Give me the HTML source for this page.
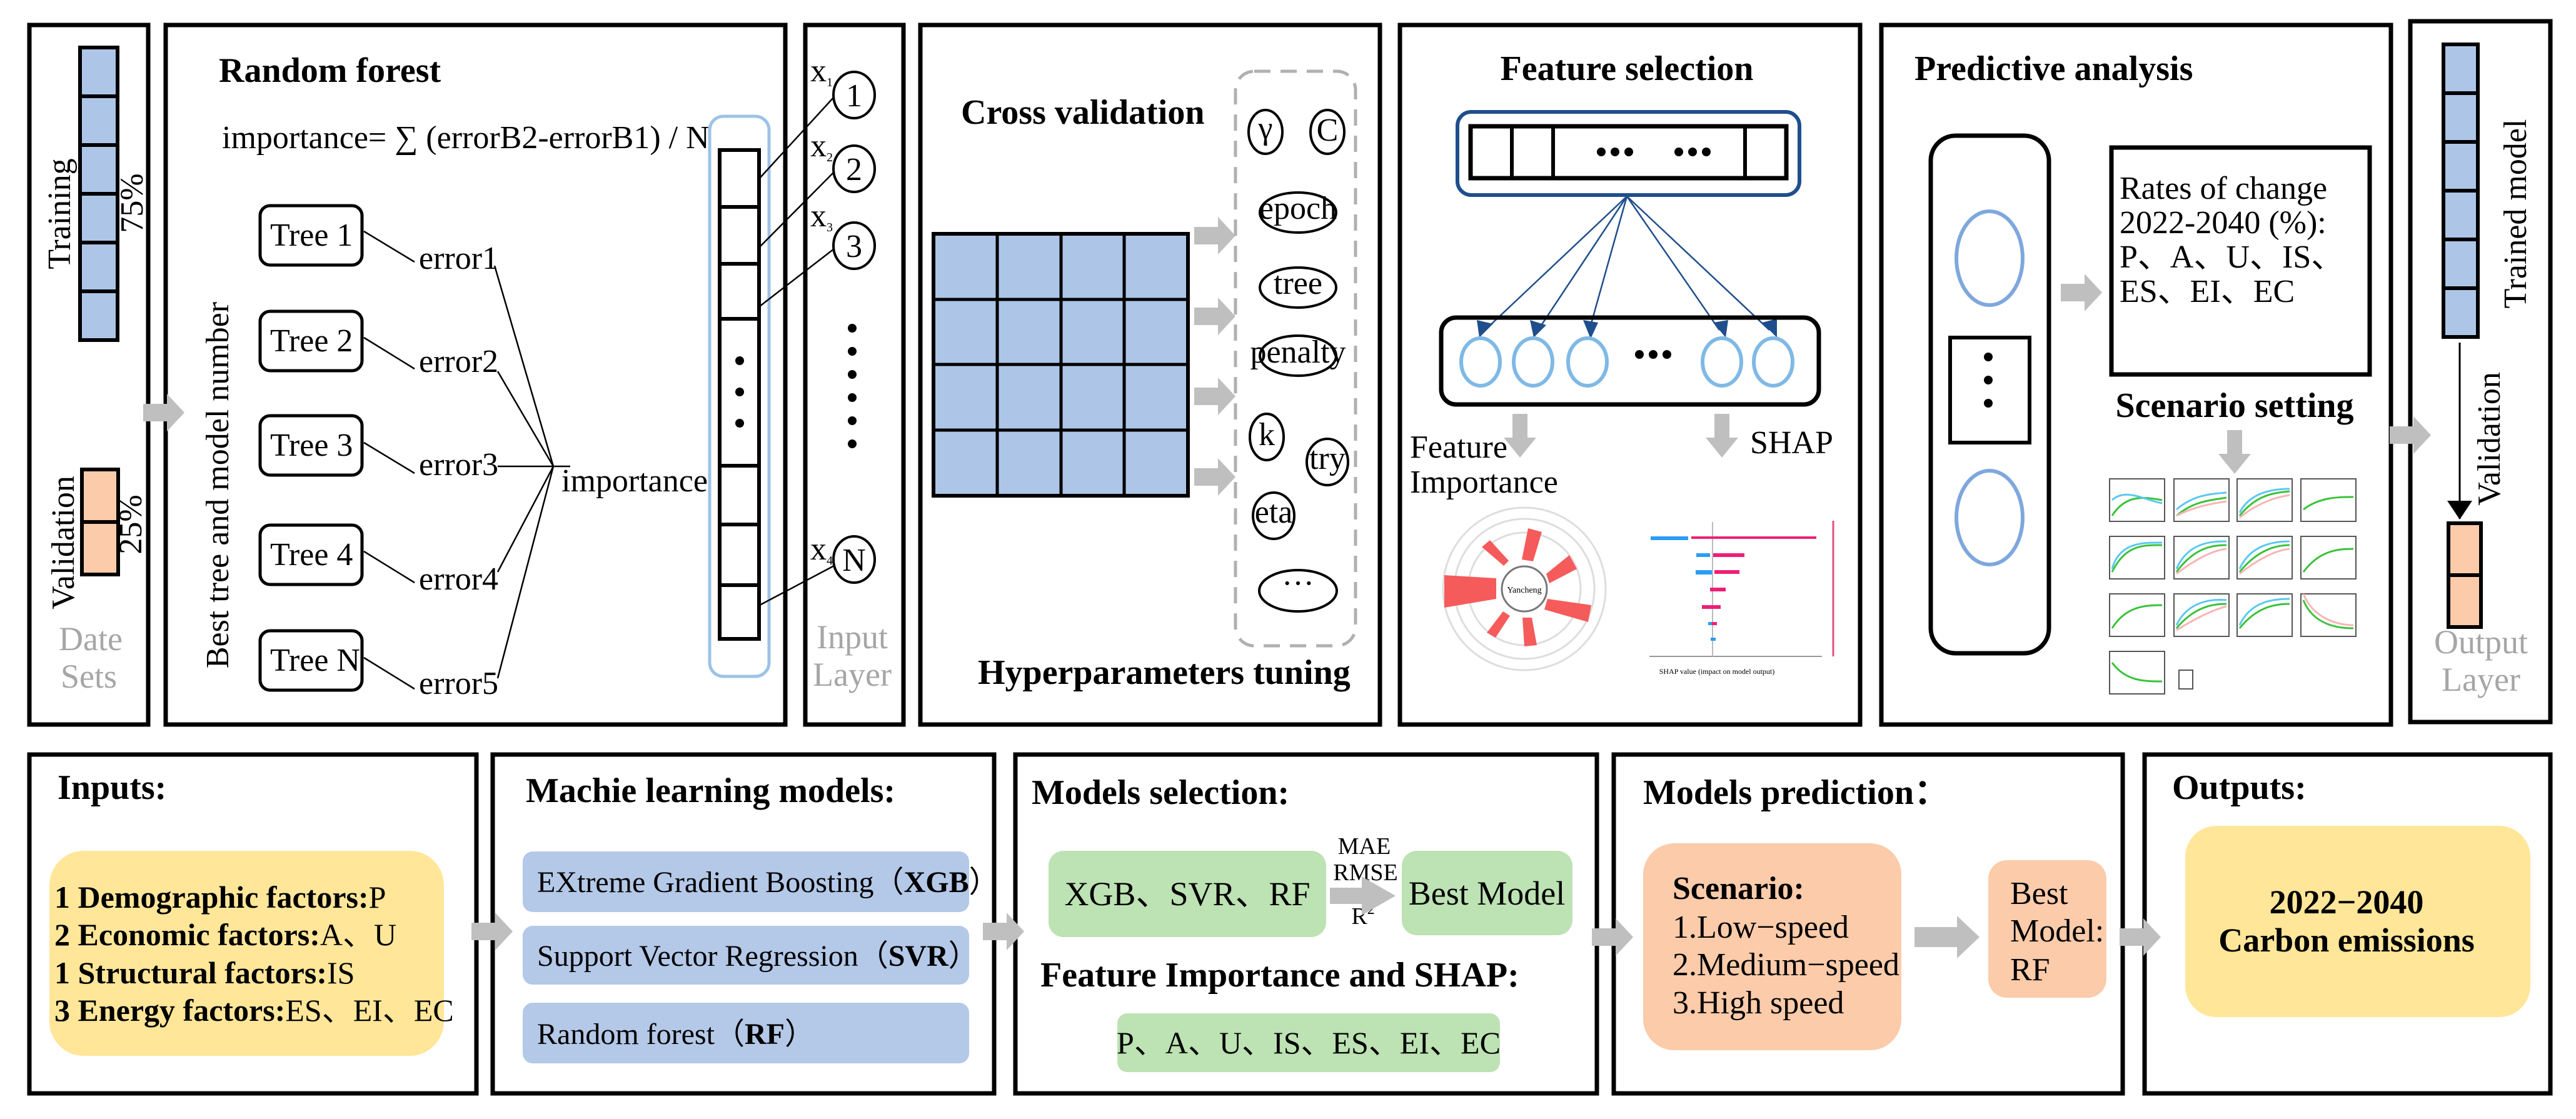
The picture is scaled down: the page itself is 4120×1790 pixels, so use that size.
<!DOCTYPE html>
<html><head><meta charset="utf-8"><style>
html,body{margin:0;padding:0;background:#fff;font-family:"Liberation Serif","Times New Roman",serif;}
svg{display:block;font-family:"Liberation Serif","Times New Roman",serif;}
svg text, svg tspan{font-family:"Liberation Serif","Times New Roman",serif;fill:#000;}
.t{font-weight:bold;font-size:56px;}
.n{font-size:52px;}
.g{fill:#a6a6a6 !important;font-size:54px;}
.box{fill:none;stroke:#000;stroke-width:7;}
</style></head><body>
<svg width="4120" height="1790" viewBox="0 0 4120 1790" xmlns="http://www.w3.org/2000/svg" font-family="Liberation Serif, Times New Roman, serif">
<defs>
<marker id="ab" markerWidth="8" markerHeight="8" refX="7" refY="4" orient="auto" markerUnits="userSpaceOnUse" viewBox="0 0 8 8"><path d="M0,0 L8,4 L0,8z" fill="#1f4e8c"/></marker>
<marker id="ak" markerWidth="30" markerHeight="40" refX="29" refY="20" orient="auto" markerUnits="userSpaceOnUse"><path d="M0,0 L30,20 L0,40z" fill="#000"/></marker>
<g id="gar"><path d="M0,-14 H38 V-30 L66,0 L38,30 V14 H0z" fill="#bfbfbf"/></g>
<g id="gdn"><path d="M-12,0 V38 H-26 L0,70 L26,38 H12 V0z" fill="#bfbfbf"/></g>
</defs>

<rect class="box" x="47" y="40" width="190" height="1119"/>
<rect class="box" x="265" y="40" width="991" height="1119"/>
<rect class="box" x="1288" y="40" width="157" height="1119"/>
<rect class="box" x="1472" y="40" width="735" height="1119"/>
<rect class="box" x="2239" y="40" width="736" height="1119"/>
<rect class="box" x="3009" y="40" width="815" height="1119"/>
<rect class="box" x="3855" y="34" width="224" height="1121"/>

<g fill="#adc6e8" stroke="#000" stroke-width="6">
<rect x="128" y="76" width="60" height="78"/><rect x="128" y="154" width="60" height="78"/><rect x="128" y="232" width="60" height="78"/><rect x="128" y="310" width="60" height="78"/><rect x="128" y="388" width="60" height="78"/><rect x="128" y="466" width="60" height="78"/>
</g>
<g fill="#fbcbaa" stroke="#000" stroke-width="6">
<rect x="131" y="751" width="58" height="84"/><rect x="131" y="835" width="58" height="84"/>
</g>
<text class="n" transform="translate(112,342) rotate(-90)" text-anchor="middle" font-size="56">Training</text>
<text class="n" transform="translate(228,325) rotate(-90)" text-anchor="middle" font-size="42">75%</text>
<text class="n" transform="translate(118,868) rotate(-90)" text-anchor="middle" font-size="56">Validation</text>
<text class="n" transform="translate(226,839) rotate(-90)" text-anchor="middle" font-size="42">25%</text>
<text class="g" x="145" y="1040" text-anchor="middle" fill="#a6a6a6">Date</text>
<text class="g" x="142" y="1100" text-anchor="middle" fill="#a6a6a6">Sets</text>
<use href="#gar" x="229" y="660"/>

<text class="t" x="350" y="131">Random forest</text>
<text class="n" x="355" y="237" font-size="54">importance= ∑ (errorB2-errorB1) / N</text>
<text class="n" transform="translate(365,776) rotate(-90)" text-anchor="middle" font-size="56">Best tree and model number</text>
<g fill="#fff" stroke="#000" stroke-width="5">
<rect x="416" y="329" width="163" height="95" rx="16"/>
<rect x="416" y="498" width="163" height="95" rx="16"/>
<rect x="416" y="665" width="163" height="95" rx="16"/>
<rect x="416" y="840" width="163" height="95" rx="16"/>
<rect x="416" y="1009" width="163" height="95" rx="16"/>
</g>
<g class="n" font-size="52">
<text x="432" y="393">Tree 1</text><text x="432" y="562">Tree 2</text><text x="432" y="729">Tree 3</text><text x="432" y="904">Tree 4</text><text x="432" y="1073">Tree N</text>
<text x="670" y="430">error1</text><text x="670" y="595">error2</text><text x="670" y="760">error3</text><text x="670" y="943">error4</text><text x="670" y="1110">error5</text>
<text x="898" y="786">importance</text>
</g>
<g stroke="#000" stroke-width="2.5" fill="none">
<line x1="582" y1="370" x2="663" y2="419"/><line x1="582" y1="540" x2="663" y2="590"/><line x1="582" y1="708" x2="663" y2="757"/><line x1="582" y1="882" x2="663" y2="932"/><line x1="582" y1="1052" x2="663" y2="1102"/>
<line x1="791" y1="425" x2="885" y2="746"/><line x1="796" y1="594" x2="885" y2="746"/><line x1="796" y1="746" x2="912" y2="746"/><line x1="796" y1="915" x2="885" y2="746"/><line x1="796" y1="1085" x2="885" y2="746"/>
</g>
<rect x="1135" y="186" width="95" height="896" rx="22" fill="none" stroke="#9dc3e6" stroke-width="5"/>
<g fill="#fff" stroke="#000" stroke-width="6">
<rect x="1151" y="240" width="63" height="91"/><rect x="1151" y="331" width="63" height="91"/><rect x="1151" y="422" width="63" height="88"/><rect x="1151" y="510" width="63" height="235"/><rect x="1151" y="745" width="63" height="94"/><rect x="1151" y="839" width="63" height="97"/><rect x="1151" y="936" width="63" height="86"/>
</g>
<circle cx="1183" cy="577" r="7"/><circle cx="1183" cy="627" r="7"/><circle cx="1183" cy="677" r="7"/>

<g stroke="#000" stroke-width="2.5">
<line x1="1215" y1="285" x2="1334" y2="155"/><line x1="1215" y1="395" x2="1334" y2="275"/><line x1="1215" y1="490" x2="1334" y2="398"/><line x1="1215" y1="968" x2="1334" y2="905"/>
</g>
<g fill="#fff" stroke="#000" stroke-width="4">
<ellipse cx="1366" cy="152" rx="33" ry="37"/><ellipse cx="1366" cy="270" rx="33" ry="37"/><ellipse cx="1366" cy="393" rx="33" ry="37"/><ellipse cx="1366" cy="895" rx="33" ry="37"/>
</g>
<g class="n" font-size="50" text-anchor="middle"><text x="1366" y="170">1</text><text x="1366" y="288">2</text><text x="1366" y="411">3</text><text x="1366" y="913">N</text></g>
<g class="n" font-size="30"><text x="1296" y="130">x<tspan font-size="20" dy="8">1</tspan></text><text x="1296" y="250">x<tspan font-size="20" dy="8">2</tspan></text><text x="1296" y="362">x<tspan font-size="20" dy="8">3</tspan></text><text x="1296" y="895">x<tspan font-size="20" dy="8">4</tspan></text></g>
<g fill="#000"><circle cx="1363" cy="525" r="7"/><circle cx="1363" cy="562" r="7"/><circle cx="1363" cy="599" r="7"/><circle cx="1363" cy="636" r="7"/><circle cx="1363" cy="673" r="7"/><circle cx="1363" cy="710" r="7"/></g>
<text class="g" x="1363" y="1037" text-anchor="middle" fill="#a6a6a6">Input</text>
<text class="g" x="1363" y="1097" text-anchor="middle" fill="#a6a6a6">Layer</text>

<text class="t" x="1537" y="198">Cross validation</text>
<rect x="1493" y="374" width="407" height="419" fill="#adc6e8" stroke="#000" stroke-width="6"/>
<g stroke="#000" stroke-width="5">
<line x1="1595" y1="374" x2="1595" y2="793"/><line x1="1697" y1="374" x2="1697" y2="793"/><line x1="1798" y1="374" x2="1798" y2="793"/>
<line x1="1493" y1="479" x2="1900" y2="479"/><line x1="1493" y1="583" x2="1900" y2="583"/><line x1="1493" y1="688" x2="1900" y2="688"/>
</g>
<use href="#gar" x="1910" y="377"/><use href="#gar" x="1910" y="506"/><use href="#gar" x="1910" y="634"/><use href="#gar" x="1910" y="763"/>
<rect x="1976" y="114" width="192" height="919" rx="30" fill="none" stroke="#b0b0b0" stroke-width="5" stroke-dasharray="26,16"/>
<g fill="#fff" stroke="#000" stroke-width="4">
<ellipse cx="2024" cy="211" rx="27" ry="35"/><ellipse cx="2123" cy="211" rx="27" ry="35"/>
<ellipse cx="2076" cy="340" rx="61" ry="32"/><ellipse cx="2076" cy="460" rx="61" ry="32"/><ellipse cx="2076" cy="569" rx="61" ry="32"/>
<ellipse cx="2026" cy="699" rx="27" ry="37"/><ellipse cx="2123" cy="739" rx="33" ry="37"/><ellipse cx="2037" cy="825" rx="33" ry="37"/><ellipse cx="2076" cy="945" rx="62" ry="33"/>
</g>
<g class="n" font-size="40" text-anchor="middle">
<text x="2024" y="222">γ</text><text x="2123" y="225">C</text><text x="2076" y="350">epoch</text><text x="2076" y="470">tree</text><text x="2076" y="580">penalty</text><text x="2026" y="712">k</text><text x="2123" y="750">try</text><text x="2037" y="836">eta</text><text x="2076" y="950">···</text>
</g>
<text class="t" x="1564" y="1094">Hyperparameters tuning</text>

<text class="t" x="2602" y="128" text-anchor="middle">Feature selection</text>
<rect x="2331" y="179" width="547" height="133" rx="22" fill="none" stroke="#1f4e8c" stroke-width="6"/>
<rect x="2352" y="202" width="505" height="83" fill="none" stroke="#000" stroke-width="7"/>
<g stroke="#000" stroke-width="6"><line x1="2418" y1="202" x2="2418" y2="285"/><line x1="2484" y1="202" x2="2484" y2="285"/><line x1="2791" y1="202" x2="2791" y2="285"/></g>
<g fill="#000"><circle cx="2561" cy="243" r="7"/><circle cx="2583" cy="243" r="7"/><circle cx="2605" cy="243" r="7"/><circle cx="2685" cy="243" r="7"/><circle cx="2707" cy="243" r="7"/><circle cx="2729" cy="243" r="7"/></g>
<g stroke="#1f4e8c" stroke-width="2.5">
<line x1="2602" y1="314" x2="2375" y2="528"/><line x1="2602" y1="314" x2="2460" y2="528"/><line x1="2602" y1="314" x2="2542" y2="528"/><line x1="2602" y1="314" x2="2750" y2="528"/><line x1="2602" y1="314" x2="2830" y2="528"/>
</g>
<g fill="#1f4e8c">
<path d="M2362,512 l26,6 l-22,22z"/><path d="M2447,512 l26,8 l-20,20z"/><path d="M2532,512 l24,4 l-12,26z"/><path d="M2740,516 l24,-4 l-4,28z"/><path d="M2818,516 l24,-6 l0,30z"/>
</g>
<rect x="2305" y="508" width="604" height="139" rx="24" fill="none" stroke="#000" stroke-width="7"/>
<g fill="none" stroke="#7fb9e6" stroke-width="6">
<ellipse cx="2368" cy="579" rx="31" ry="38"/><ellipse cx="2452" cy="579" rx="31" ry="38"/><ellipse cx="2539" cy="579" rx="31" ry="38"/><ellipse cx="2754" cy="579" rx="31" ry="38"/><ellipse cx="2836" cy="579" rx="31" ry="38"/>
</g>
<g fill="#000"><circle cx="2622" cy="567" r="7"/><circle cx="2644" cy="567" r="7"/><circle cx="2666" cy="567" r="7"/></g>
<use href="#gdn" x="2431" y="662"/><use href="#gdn" x="2754" y="662"/>
<text class="n" x="2255" y="732">Feature</text>
<text class="n" x="2255" y="788">Importance</text>
<text class="n" x="2799" y="725">SHAP</text>
<g fill="none" stroke="#ddd" stroke-width="3">
<circle cx="2438" cy="942" r="130"/><circle cx="2438" cy="942" r="112"/><circle cx="2438" cy="942" r="90"/>
</g>
<circle cx="2438" cy="942" r="36" fill="none" stroke="#777" stroke-width="3"/>
<text x="2438" y="948" font-size="14" text-anchor="middle">Yancheng</text>
<g fill="#f55b5b">
<path d="M2434,895 L2444,845 L2466,851 L2452,898z"/>
<path d="M2405,905 L2370,875 L2383,864 L2413,897z"/>
<path d="M2473,918 L2510,888 L2522,910 L2478,933z"/>
<path d="M2393,925 L2310,920 L2310,972 L2393,958z"/>
<path d="M2475,958 L2545,968 L2540,995 L2470,975z"/>
<path d="M2404,978 L2378,1012 L2392,1020 L2415,985z"/>
<path d="M2435,988 L2438,1034 L2458,1032 L2450,988z"/>
</g>
<line x1="2638" y1="1050" x2="2914" y2="1050" stroke="#999" stroke-width="2"/>
<line x1="2739" y1="835" x2="2739" y2="1050" stroke="#bbb" stroke-width="2"/>
<line x1="2932" y1="833" x2="2932" y2="1050" stroke="#e05080" stroke-width="3"/>
<g fill="#2a9df4"><rect x="2640" y="858" width="60" height="6"/><rect x="2713" y="885" width="22" height="6"/><rect x="2712" y="912" width="26" height="7"/><rect x="2730" y="968" width="12" height="6"/><rect x="2732" y="995" width="10" height="5"/><rect x="2736" y="1020" width="8" height="5"/></g>
<g fill="#ee1e77"><rect x="2705" y="858" width="200" height="4"/><rect x="2740" y="885" width="50" height="6"/><rect x="2742" y="912" width="40" height="6"/><rect x="2735" y="940" width="25" height="6"/><rect x="2722" y="968" width="30" height="6"/><rect x="2738" y="995" width="8" height="5"/></g>
<text x="2746" y="1078" font-size="12" text-anchor="middle">SHAP value (impact on model output)</text>

<text class="t" x="3062" y="128">Predictive analysis</text>
<rect x="3088" y="217" width="189" height="828" rx="40" fill="none" stroke="#000" stroke-width="7"/>
<g fill="none" stroke="#7ea7dd" stroke-width="6"><ellipse cx="3182" cy="413" rx="53" ry="75"/><ellipse cx="3182" cy="828" rx="53" ry="75"/></g>
<rect x="3119" y="540" width="127" height="168" fill="none" stroke="#000" stroke-width="6"/>
<g fill="#000"><circle cx="3180" cy="571" r="7"/><circle cx="3180" cy="608" r="7"/><circle cx="3180" cy="645" r="7"/></g>
<use href="#gar" x="3296" y="468"/>
<rect x="3377" y="236" width="413" height="363" fill="none" stroke="#000" stroke-width="7"/>
<g class="n" font-size="52"><text x="3390" y="318">Rates of change</text><text x="3390" y="373">2022-2040 (%):</text><text x="3390" y="428">P、A、U、IS、</text><text x="3390" y="483">ES、EI、EC</text></g>
<text class="t" x="3574" y="667" text-anchor="middle">Scenario setting</text>
<use href="#gdn" x="3574" y="688"/>
<g fill="#fff" stroke="#555" stroke-width="2">
<rect x="3374" y="766" width="88" height="68"/><rect x="3477" y="766" width="88" height="68"/><rect x="3578" y="766" width="88" height="68"/><rect x="3680" y="766" width="88" height="68"/>
<rect x="3374" y="858" width="88" height="68"/><rect x="3477" y="858" width="88" height="68"/><rect x="3578" y="858" width="88" height="68"/><rect x="3680" y="858" width="88" height="68"/>
<rect x="3374" y="950" width="88" height="68"/><rect x="3477" y="950" width="88" height="68"/><rect x="3578" y="950" width="88" height="68"/><rect x="3680" y="950" width="88" height="68"/>
<rect x="3374" y="1042" width="88" height="68"/><rect x="3485" y="1072" width="22" height="30"/>
</g>
<g fill="none" stroke-width="3">
<g stroke="#3ac23a"><path d="M3378,825 C3400,790 3430,795 3458,800"/><path d="M3481,825 C3510,800 3540,800 3561,796"/><path d="M3582,825 C3610,790 3640,788 3662,786"/><path d="M3684,815 C3710,795 3740,795 3764,795"/>
<path d="M3378,915 C3400,870 3430,872 3458,872"/><path d="M3481,915 C3510,875 3540,872 3561,872"/><path d="M3582,915 C3610,880 3640,872 3662,872"/><path d="M3684,915 C3710,880 3740,878 3764,878"/>
<path d="M3378,1005 C3400,970 3430,968 3458,968"/><path d="M3481,1005 C3510,970 3540,966 3561,966"/><path d="M3582,1005 C3610,970 3640,966 3662,966"/><path d="M3684,960 C3700,1000 3740,1005 3764,1005"/><path d="M3378,1060 C3400,1090 3430,1090 3458,1090"/></g>
<g stroke="#5bc8f0"><path d="M3378,800 C3400,780 3430,800 3458,805"/><path d="M3481,815 C3510,790 3540,790 3561,788"/><path d="M3582,820 C3600,785 3640,782 3662,782"/><path d="M3582,910 C3600,870 3640,866 3662,866"/><path d="M3481,910 C3500,866 3540,866 3561,866"/><path d="M3378,910 C3390,866 3430,868 3458,868"/><path d="M3481,1000 C3500,960 3540,958 3561,960"/><path d="M3582,1000 C3600,960 3640,958 3662,958"/></g>
<g stroke="#f7b5b5"><path d="M3481,825 C3510,810 3540,805 3561,802"/><path d="M3582,828 C3610,805 3640,795 3662,792"/><path d="M3481,918 C3510,895 3540,880 3561,878"/><path d="M3582,918 C3610,895 3640,880 3662,878"/><path d="M3481,1008 C3510,990 3540,975 3561,970"/><path d="M3684,950 C3700,990 3740,1000 3764,1000"/></g>
</g>
<use href="#gar" x="3822" y="696"/>

<g fill="#adc6e8" stroke="#000" stroke-width="6">
<rect x="3908" y="71" width="55" height="78"/><rect x="3908" y="149" width="55" height="78"/><rect x="3908" y="227" width="55" height="78"/><rect x="3908" y="305" width="55" height="78"/><rect x="3908" y="383" width="55" height="78"/><rect x="3908" y="461" width="55" height="78"/>
</g>
<text class="n" transform="translate(4040,342) rotate(-90)" text-anchor="middle" font-size="58">Trained model</text>
<line x1="3934" y1="548" x2="3934" y2="830" stroke="#000" stroke-width="3" marker-end="url(#ak)"/>
<text class="n" transform="translate(3998,702) rotate(-90)" text-anchor="middle" font-size="56">Validation</text>
<g fill="#fbcbaa" stroke="#000" stroke-width="6"><rect x="3916" y="837" width="52" height="83"/><rect x="3916" y="920" width="52" height="83"/></g>
<text class="g" x="3968" y="1045" text-anchor="middle" fill="#a6a6a6">Output</text>
<text class="g" x="3968" y="1105" text-anchor="middle" fill="#a6a6a6">Layer</text>

<rect class="box" x="47" y="1207" width="715" height="542"/>
<rect class="box" x="788" y="1207" width="802" height="542"/>
<rect class="box" x="1624" y="1207" width="930" height="542"/>
<rect class="box" x="2581" y="1207" width="814" height="542"/>
<rect class="box" x="3430" y="1207" width="649" height="542"/>

<text class="t" x="92" y="1278">Inputs:</text>
<rect x="79" y="1361" width="631" height="328" rx="55" fill="#ffe699"/>
<g font-size="50"><text x="87" y="1452"><tspan font-weight="bold">1 Demographic factors:</tspan>P</text>
<text x="87" y="1512"><tspan font-weight="bold">2 Economic factors:</tspan>A、U</text>
<text x="87" y="1573"><tspan font-weight="bold">1 Structural factors:</tspan>IS</text>
<text x="87" y="1633"><tspan font-weight="bold">3 Energy factors:</tspan>ES、EI、EC</text></g>
<use href="#gar" x="754" y="1490"/>

<text class="t" x="841" y="1283">Machie learning models:</text>
<g fill="#b4c8e8"><rect x="836" y="1362" width="714" height="97" rx="16"/><rect x="836" y="1481" width="714" height="94" rx="16"/><rect x="836" y="1604" width="714" height="97" rx="16"/></g>
<g font-size="48"><text x="859" y="1427">EXtreme Gradient Boosting（<tspan font-weight="bold">XGB</tspan>）</text>
<text x="859" y="1545">Support Vector Regression（<tspan font-weight="bold">SVR</tspan>）</text>
<text x="859" y="1670">Random forest（<tspan font-weight="bold">RF</tspan>）</text></g>
<use href="#gar" x="1572" y="1490"/>

<text class="t" x="1650" y="1286">Models selection:</text>
<rect x="1677" y="1361" width="444" height="138" rx="24" fill="#bde2b3"/>
<text x="1899" y="1448" font-size="54" text-anchor="middle">XGB、SVR、RF</text>
<g font-size="38" text-anchor="middle"><text x="2182" y="1366">MAE</text><text x="2184" y="1408">RMSE</text><text x="2180" y="1478">R<tspan font-size="24" dy="-16">2</tspan></text></g>
<path d="M2127,1420 H2178 V1402 L2232,1433 L2178,1464 V1446 H2127z" fill="#bfbfbf"/>
<rect x="2242" y="1361" width="273" height="135" rx="24" fill="#bde2b3"/>
<text x="2378" y="1447" font-size="54" text-anchor="middle">Best Model</text>
<text class="t" x="1664" y="1578">Feature Importance and SHAP:</text>
<rect x="1787" y="1621" width="612" height="94" rx="16" fill="#bde2b3"/>
<text x="2093" y="1685" font-size="50" text-anchor="middle">P、A、U、IS、ES、EI、EC</text>
<use href="#gar" x="2546" y="1499"/>

<text class="t" x="2628" y="1286">Models prediction：</text>
<rect x="2628" y="1349" width="413" height="331" rx="50" fill="#fbcbaa"/>
<text x="2675" y="1438" font-size="52" font-weight="bold">Scenario:</text>
<g font-size="52"><text x="2675" y="1500">1.Low−speed</text><text x="2675" y="1560">2.Medium−speed</text><text x="2675" y="1621">3.High speed</text></g>
<path d="M3062,1483 H3130 V1465 L3166,1499 L3130,1533 V1515 H3062z" fill="#bfbfbf"/>
<rect x="3180" y="1376" width="189" height="220" rx="30" fill="#fbcbaa"/>
<g font-size="52"><text x="3215" y="1446">Best</text><text x="3215" y="1506">Model:</text><text x="3215" y="1568">RF</text></g>
<use href="#gar" x="3390" y="1499"/>

<text class="t" x="3474" y="1278">Outputs:</text>
<rect x="3495" y="1321" width="552" height="306" rx="50" fill="#ffe699"/>
<text x="3753" y="1461" font-size="54" font-weight="bold" text-anchor="middle">2022−2040</text>
<text x="3753" y="1522" font-size="54" font-weight="bold" text-anchor="middle">Carbon emissions</text>
</svg>
</body></html>
